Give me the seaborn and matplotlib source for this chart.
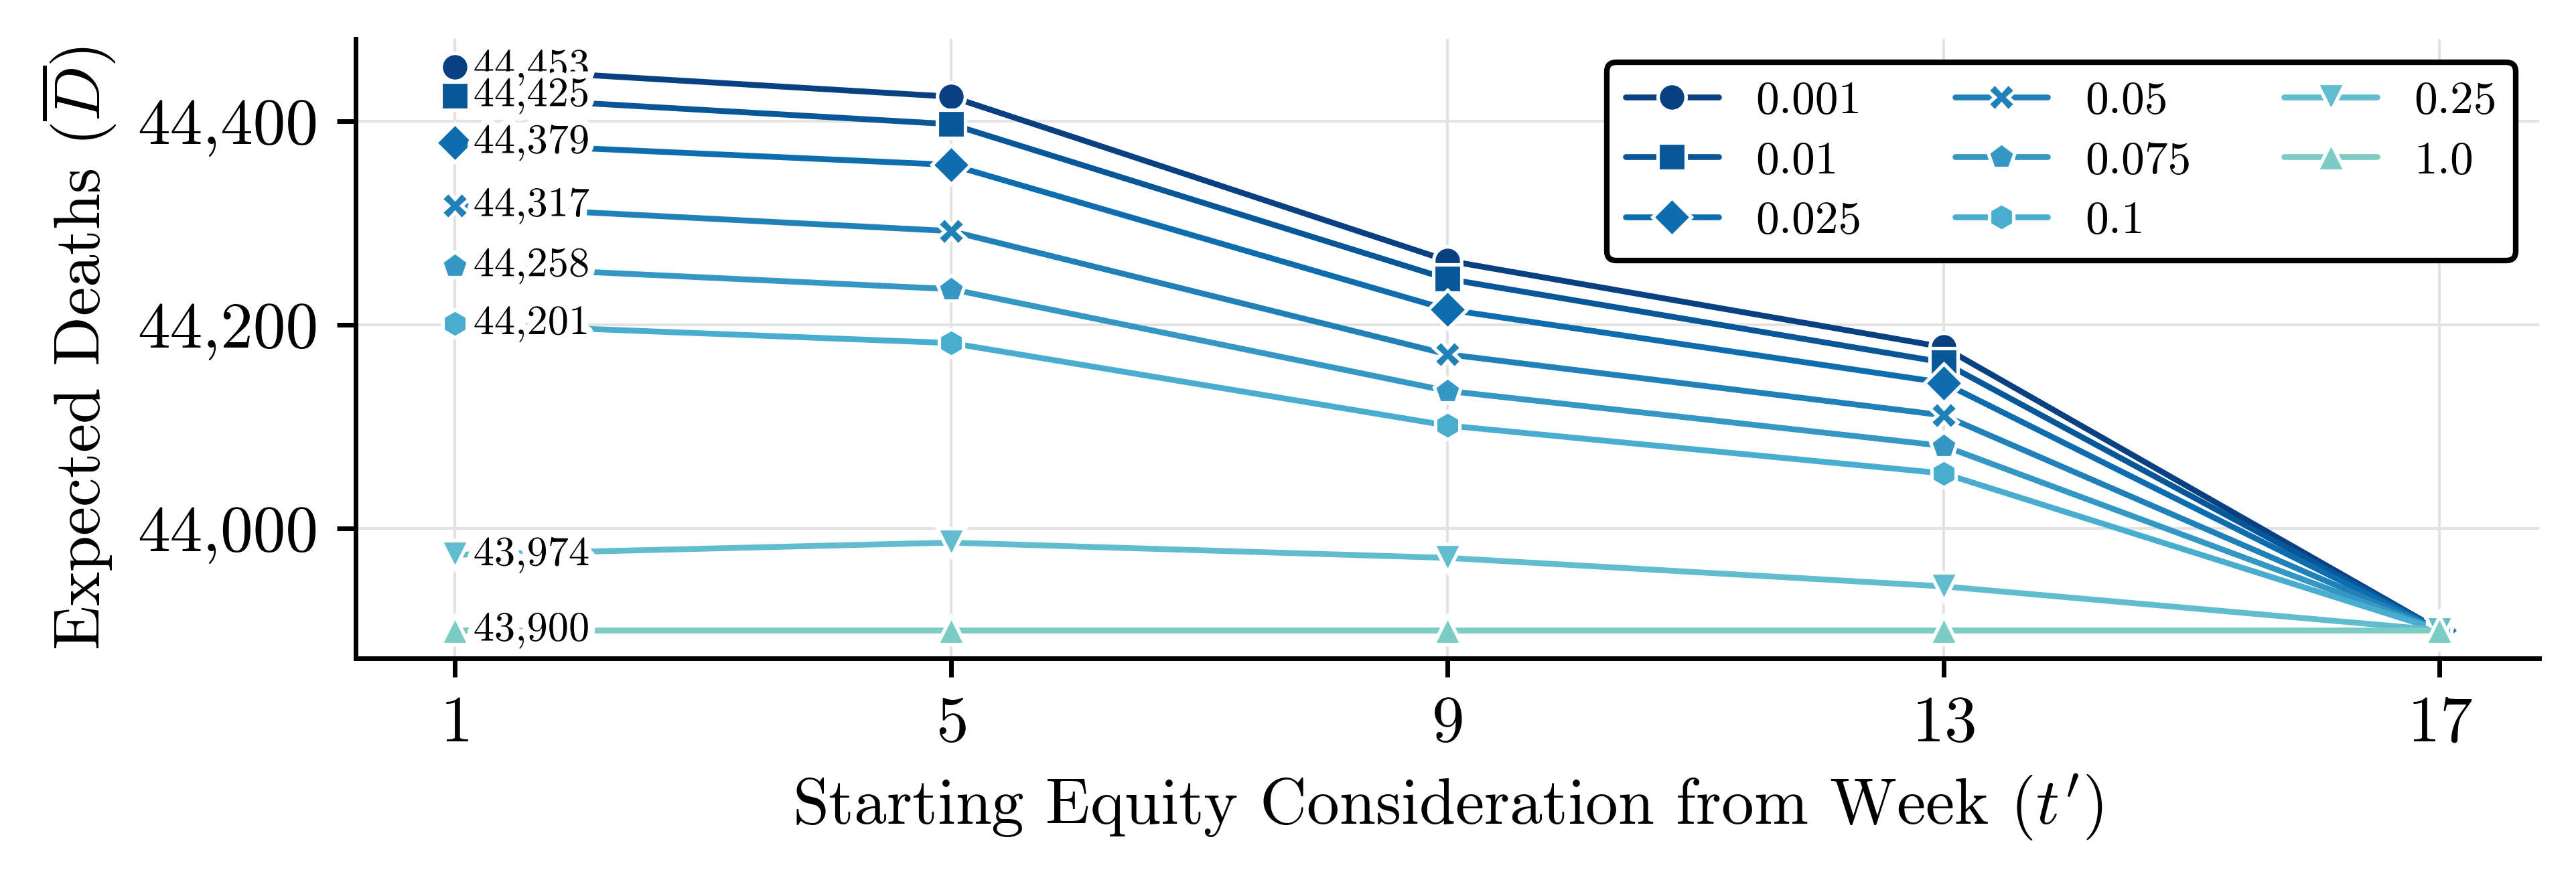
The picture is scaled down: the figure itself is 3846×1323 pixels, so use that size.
import numpy as np
import pandas as pd
import seaborn as sns
from matplotlib import pyplot as plt
from matplotlib import ticker
import matplotlib.patheffects as pe

# starting weeks and expected deaths per equity weight
weeks = [1, 5, 9, 13, 17]
eps_labels = ['0.001', '0.01', '0.025', '0.05', '0.075', '0.1', '0.25', '1.0']

deaths_0001 = [44453, 44424, 44263, 44178, 43900]
deaths_001 = [44425, 44397, 44245, 44163, 43900]
deaths_0025 = [44379, 44357, 44215, 44143, 43900]
deaths_005 = [44317, 44292, 44171, 44111, 43900]
deaths_0075 = [44258, 44235, 44135, 44081, 43900]
deaths_01 = [44201, 44182, 44101, 44054, 43900]
deaths_025 = [43974, 43986, 43971, 43943, 43900]
deaths_1 = [43900, 43900, 43900, 43900, 43900]

all_deaths = [deaths_0001, deaths_001, deaths_0025, deaths_005,
              deaths_0075, deaths_01, deaths_025, deaths_1]

sns.set_style('ticks')
plt.rcParams['font.family'] = 'serif'
plt.rcParams['font.serif'] = ['cmr10']
plt.rcParams['mathtext.fontset'] = 'cm'
plt.rcParams['axes.formatter.use_mathtext'] = True
plt.rcParams['axes.unicode_minus'] = False
for k in ['text.color', 'axes.labelcolor', 'xtick.color', 'ytick.color']:
    plt.rcParams[k] = 'black'

df = pd.DataFrame()
for lab, vals in zip(eps_labels, all_deaths):
    this_df = pd.DataFrame({'Week': weeks, 'Deaths': vals, 'eps': lab})
    df = pd.concat([df, this_df])

cmap = sns.color_palette('GnBu', as_cmap=True)
cols = [cmap(v) for v in np.linspace(1.0, 0.5, len(eps_labels))]
palette = dict(zip(eps_labels, cols))
markers = dict(zip(eps_labels, ['o', 's', 'D', 'X', 'p', 'h', 'v', '^']))

fig = plt.figure(figsize=(7.692, 2.646), dpi=500)
ax = fig.add_axes([0.138, 0.257, 0.8476, 0.699])

sns.lineplot(data=df, x='Week', y='Deaths', hue='eps', style='eps',
             palette=palette, markers=markers, dashes=False,
             linewidth=1.25, markersize=6, markeredgecolor='white',
             markeredgewidth=0.75, ax=ax)

# value labels at the first week
first = df[df['Week'] == weeks[0]]
for _, row in first.iterrows():
    ax.annotate(f"{row['Deaths']:,.0f}", (row['Week'], row['Deaths']),
                xytext=(4, 0), textcoords='offset points',
                ha='left', va='center', fontsize=9, zorder=5,
                path_effects=[pe.withStroke(linewidth=3, foreground='white')])

ax.set_xticks(weeks)
ax.yaxis.set_major_locator(ticker.MultipleLocator(200))
ax.yaxis.set_major_formatter(ticker.FuncFormatter(lambda v, p: f'{v:,.0f}'))
ax.tick_params(axis='both', labelsize=14, length=4, width=1, pad=4, color='black')

ax.set_xlabel("Starting Equity Consideration from Week $(t')$", fontsize=14)
ax.set_ylabel(r'Expected Deaths $(\overline{D})$', fontsize=14)

ax.grid(True, color='#e3e3e3', linewidth=0.6)
ax.set_axisbelow(True)
sns.despine(ax=ax)
for s in ['left', 'bottom']:
    ax.spines[s].set_linewidth(1.0)
    ax.spines[s].set_color('black')

handles, labels = ax.get_legend_handles_labels()
leg = ax.legend(handles, labels, ncol=3, loc='upper right', fontsize=10,
                labelspacing=0.4, frameon=True, fancybox=True,
                framealpha=1, edgecolor='black')
leg.get_frame().set_linewidth(1.2)

plt.savefig('out.png', dpi=500)
